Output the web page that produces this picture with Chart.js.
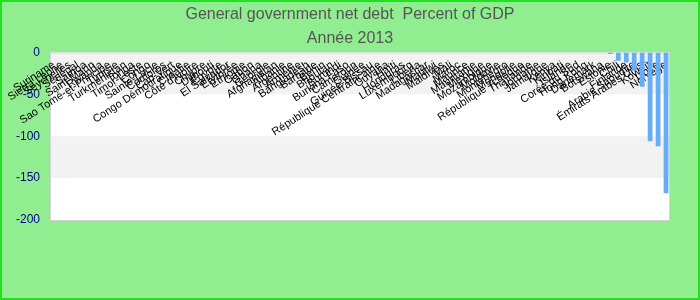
<!DOCTYPE html>
<html>
<head>
<meta charset="utf-8">
<script src="https://cdn.jsdelivr.net/npm/chart.js@4.4.1/dist/chart.umd.min.js"></script>
<style>
  html,body{margin:0;padding:0;background:#90ee90}
  #wrap{width:700px;height:300px;position:relative}
</style>
</head>
<body>
<div id="wrap"><canvas id="chart" width="700" height="300"></canvas></div>
<script>
// données (les barres invisibles restent vides)
const pays = [
  'Suriname','Sierra Leone','Seychelles','Sénégal','Samoa','Saint-Marin','Rwanda','Sao Tomé-et-Principe',
  'Tunisie','Turkménistan','Tonga','Timor-Leste','Congo','Sainte-Lucie','Comores','Cap-Vert',
  'Congo Démocratique','Croatie',"Côte d'Ivoire",'Chypre','Djibouti','Égypte','El Salvador','Érythrée',
  'Éthiopie','Gabon','Ghana','Géorgie','Afghanistan','Albanie','Argentine','Arménie',
  'Bangladesh','Barbade','Bénin','Bhoutan','Burundi','Burkina Faso','Cameroun','Guinée',
  'Guinée-Bissau','République Centrafricaine','Guyana','Haïti','Honduras','Luxembourg','Liberia','Madagascar',
  'Malawi','Maldives','Mali','Maroc','Maurice','Mauritanie','Mexique','Mozambique',
  'Moldavie','Monténégro','Mongolie','République Tchèque','Thaïlande','Jordanie','Jamaïque','Kenya',
  'Kiribati','Islande','Corée du Sud','Hong Kong','Danemark','Botswana','Estonie','Chili',
  'Finlande','Arabie Saoudite','Émirats Arabes Unis','Koweït','Libye','Norvège'
];
const detteNette = [
  null,null,null,null,null,null,null,null,
  null,null,null,null,null,null,null,null,
  null,null,null,null,null,null,null,null,
  null,null,null,null,null,null,null,null,
  null,null,null,null,null,null,null,null,
  null,null,null,null,null,null,null,null,
  null,null,null,null,null,null,null,null,
  null,null,null,null,null,null,null,null,
  null,null,null,null,null,null,-2,-10,
  -12,-22,-41,-106,-112,-168
];
const yMin = -200, yMax = 0, yStep = 50;
const titre = 'General government net debt  Percent of GDP';
const sousTitre = 'Année 2013';

// fond vert + bandes alternées dans la zone du graphe
const fondPlugin = {
  id:'fond',
  beforeDraw(chart){
    const {ctx, chartArea:a, scales:{y}} = chart;
    ctx.save();
    ctx.fillStyle = '#90ee90';
    ctx.fillRect(0,0,chart.width,chart.height);
    ctx.fillStyle = '#ffffff';
    ctx.fillRect(a.left,a.top,a.right-a.left,a.bottom-a.top);
    ctx.fillStyle = '#f2f2f2';
    for(let v=yMax, i=0; v>yMin; v-=yStep, i++){
      if(i%2) continue;
      const t = y.getPixelForValue(v), b = y.getPixelForValue(v-yStep);
      ctx.fillRect(a.left,t,a.right-a.left,b-t);
    }
    ctx.strokeStyle = '#d4d4d4'; ctx.lineWidth = 1;
    ctx.strokeRect(a.left+0.5,a.top+0.5,a.right-a.left-1,a.bottom-a.top);
    ctx.strokeStyle = '#22e022'; ctx.lineWidth = 2;
    ctx.strokeRect(1,1,chart.width-2,chart.height-2);
    ctx.restore();
  }
};

new Chart(document.getElementById('chart').getContext('2d'), {
  type:'bar',
  data:{labels:pays, datasets:[{label:'Dette nette', data:detteNette, backgroundColor:'#66adf7',
    barPercentage:0.75, categoryPercentage:0.8}]},
  options:{
    responsive:false, animation:false,
    layout:{padding:{left:0,right:0,top:0,bottom:80}},
    plugins:{
      legend:{display:false}, tooltip:{enabled:false},
      title:{display:true,text:titre,color:'#555',font:{family:'Liberation Sans, Arial',size:16,weight:'normal'},padding:{top:5,bottom:2}},
      subtitle:{display:true,text:sousTitre,color:'#555',font:{family:'Liberation Sans, Arial',size:16},padding:{top:3,bottom:4}}
    },
    scales:{
      x:{position:{y:0}, grid:{display:false,drawTicks:false}, border:{display:false},
        ticks:{autoSkip:false,maxRotation:33,minRotation:33,padding:6,color:'#000',font:{family:'Liberation Sans, Arial',size:11}}},
      y:{min:yMin,max:yMax, grid:{display:false,drawTicks:false}, border:{display:false},
        ticks:{stepSize:yStep,padding:10,color:'#00008b',font:{family:'Liberation Sans, Arial',size:12}},
        afterFit(s){ s.width = 50; }},
      // axe vide à droite pour garder la marge sans décaler le titre
      marge:{type:'linear',position:'right',grid:{display:false,drawTicks:false},border:{display:false},
        ticks:{display:false}, afterFit(s){ s.width = 30; }}
    }
  },
  plugins:[fondPlugin]
});
</script>
</body>
</html>
